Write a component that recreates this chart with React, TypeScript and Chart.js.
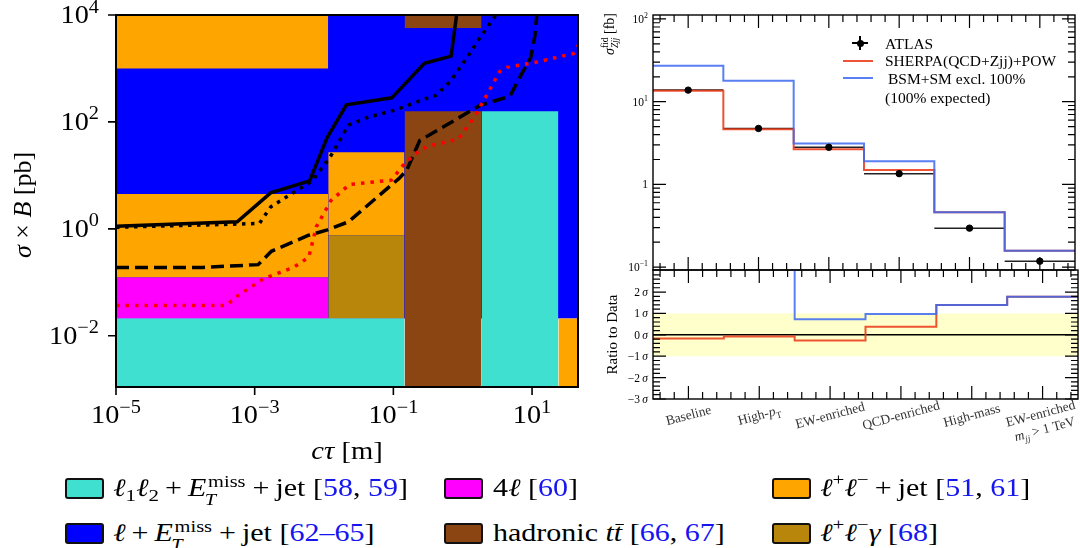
import React, { useEffect, useRef } from "react";
import { Chart, registerables } from "chart.js";
Chart.register(...registerables);

const SERIF = '"Liberation Serif", "DejaVu Serif", serif';

// ---------------- Left panel: data ----------------
const ctauMin = 1e-5;
const ctauMax = 46;
const sigmaMin = 1.1e-3;
const sigmaMax = 1e4;
const ctauTicks = [1e-5, 1e-3, 1e-1, 10];
const ctauTickExponents = ["\u22125", "\u22123", "\u22121", "1"];
const sigmaTicks = [1e4, 1e2, 1, 1e-2];
const sigmaTickExponents = ["4", "2", "0", "\u22122"];

// excluded regions: [cτ from, cτ to, σ×B from, σ×B to]
const lMetJetRegion = [1e-5, 46, 0.021, 1e4];
const llJetRegionA = [1e-5, 0.0115, 1000, 1e4];
const llJetRegionB = [1e-5, 0.0115, 0.123, 4.5];
const llJetRegionC = [0.0115, 0.145, 0.76, 27];
const llJetRegionD = [24, 46, 1e-3, 0.021];
const llGammaRegion = [0.0115, 0.145, 0.021, 0.76];
const fourLRegion = [1e-5, 0.0115, 0.021, 0.123];
const l1l2MetJetRegionA = [1e-5, 0.145, 1e-3, 0.021];
const l1l2MetJetRegionB = [1.87, 24, 1e-3, 158];
const hadTTbarRegionA = [0.145, 1.87, 1e-3, 158];
const hadTTbarRegionB = [0.145, 1.87, 5700, 1e4];

// limit curves
const solidCtau = [1e-5, 5.6e-4, 1.7e-3, 6.2e-3, 0.011, 0.021, 0.095, 0.28, 0.68, 0.84];
const solidSigma = [1.12, 1.35, 4.7, 7.9, 50, 209, 282, 1250, 1700, 13000];
const dottedCtau = [1e-5, 1.17e-3, 1.7e-3, 6.8e-3, 0.0126, 0.0224, 0.0437, 0.105, 0.288, 0.417, 0.684, 1.26, 1.74, 3.02, 3.6];
const dottedSigma = [1.07, 1.26, 2.57, 7.94, 23.4, 87, 123, 166, 269, 316, 603, 1905, 3630, 10000, 14000];
const dashedCtau = [1e-5, 1.8e-4, 1.12e-3, 1.74e-3, 6.0e-3, 0.0112, 0.0224, 0.12, 0.155, 0.24, 0.316, 1.78, 4.79, 7.08, 9.55, 10.96, 12.0];
const dashedSigma = [0.19, 0.19, 0.214, 0.38, 0.76, 0.955, 1.35, 8.7, 12.3, 45, 55, 204, 302, 794, 1585, 3981, 14125];
const redCtau = [1e-5, 3.9e-4, 5.25e-4, 1.35e-3, 3.63e-3, 6.03e-3, 7.76e-3, 0.0126, 0.0234, 0.0933, 0.145, 0.245, 0.324, 0.871, 1.51, 1.78, 2.45, 3.39, 4.37, 11.7, 39.8, 50];
const redSigma = [0.037, 0.037, 0.052, 0.117, 0.19, 0.295, 1.1, 3.39, 6.76, 8.13, 16.6, 30.2, 35.5, 47.9, 129, 191, 398, 871, 1047, 1318, 1905, 3162];

// ---------------- Right panel: data ----------------
const regionLabels = ["Baseline", "High-pT", "EW-enriched", "QCD-enriched", "High-mass", "EW-enriched mjj > 1 TeV"];
const atlasXsec = [13.8, 4.75, 2.81, 1.35, 0.296, 0.118];
const atlasErr = [0.5, 0.18, 0.12, 0.12, 0.02, 0.008];
const sherpaXsec = [13.6, 4.65, 2.67, 1.49, 0.46, 0.158];
const bsmXsec = [27.2, 17.9, 3.13, 1.91, 0.46, 0.158];
const sherpaPull = [-0.17, -0.08, -0.27, 0.375, 1.39, 1.78];
const bsmPull = [4.5, 4.5, 0.73, 0.97, 1.39, 1.78];
const xsecTicks = [100, 10, 1, 0.1];
const xsecTickExponents = ["2", "1", "", "\u22121"];
const pullTicks = [2, 1, 0, -1, -2, -3];

// ---------------- helpers ----------------
type Seg = { t?: string; it?: boolean; sub?: boolean; sup?: boolean; stack?: [string, string] };
const fontOf = (size: number, it: boolean) => `${it ? "italic " : ""}${size}px ${SERIF}`;

function drawRich(ctx: CanvasRenderingContext2D, segs: Seg[], x: number, y: number, size: number,
  opt: { align?: string; angle?: number; color?: string; dy?: number; sx?: number; scr?: number } = {}) {
  ctx.save();
  ctx.translate(x, y);
  if (opt.angle) ctx.rotate(opt.angle);
  if (opt.sx) ctx.scale(opt.sx, 1);
  const scr = opt.scr || 0.68;
  const ws = segs.map((s) => {
    if (s.stack) {
      ctx.font = fontOf(size * scr, false);
      const a = ctx.measureText(s.stack[0]).width;
      ctx.font = fontOf(size * scr, true);
      const b = ctx.measureText(s.stack[1]).width;
      return Math.max(a, b);
    }
    ctx.font = fontOf(s.sub || s.sup ? size * scr : size, !!s.it);
    return ctx.measureText(s.t || "").width;
  });
  const total = ws.reduce((a, b) => a + b, 0);
  let cx = opt.align === "right" ? -total : opt.align === "left" ? 0 : -total / 2;
  const by = opt.dy || 0;
  ctx.fillStyle = opt.color || "#000";
  ctx.textAlign = "left";
  ctx.textBaseline = "alphabetic";
  segs.forEach((s, i) => {
    if (s.stack) {
      ctx.font = fontOf(size * scr, false);
      ctx.fillText(s.stack[0], cx, by - size * 0.42);
      ctx.font = fontOf(size * scr, true);
      ctx.fillText(s.stack[1], cx, by + size * 0.3);
    } else {
      ctx.font = fontOf(s.sub || s.sup ? size * scr : size, !!s.it);
      const d = s.sub ? size * 0.25 : s.sup ? -size * 0.42 : 0;
      ctx.fillText(s.t || "", cx, by + d);
    }
    cx += ws[i];
  });
  ctx.restore();
}

function innerTicks(chart: any, xMajor: number[], xMinor: number[], yMajor: number[], yMinor: number[]) {
  const { ctx, chartArea: ca, scales } = chart;
  const xs = scales.x, ys = scales.y;
  ctx.save();
  ctx.strokeStyle = "#000";
  ctx.lineWidth = 1.2;
  ctx.beginPath();
  const vx = (v: number, len: number) => {
    const p = xs.getPixelForValue(v);
    ctx.moveTo(p, ca.top); ctx.lineTo(p, ca.top + len);
    ctx.moveTo(p, ca.bottom); ctx.lineTo(p, ca.bottom - len);
  };
  const hy = (v: number, len: number) => {
    const p = ys.getPixelForValue(v);
    if (p < ca.top - 0.5 || p > ca.bottom + 0.5) return;
    ctx.moveTo(ca.left, p); ctx.lineTo(ca.left + len, p);
    ctx.moveTo(ca.right, p); ctx.lineTo(ca.right - len, p);
  };
  xMajor.forEach((v) => vx(v, 13));
  xMinor.forEach((v) => vx(v, 7));
  yMajor.forEach((v) => hy(v, 13));
  yMinor.forEach((v) => hy(v, 7));
  ctx.stroke();
  ctx.lineWidth = 1.4;
  ctx.strokeRect(ca.left, ca.top, ca.right - ca.left, ca.bottom - ca.top);
  ctx.restore();
}

const binMajor: number[] = [];
const binMinor: number[] = [];
for (let k = 0; k < 30; k++) {
  const v = 0.1 + 0.2 * k;
  if (Math.abs(v - Math.floor(v) - 0.5) < 0.01) binMajor.push(v); else binMinor.push(v);
}
const logMinor: number[] = [];
[0.01, 0.1, 1, 10, 100].forEach((d) => { for (let m = 2; m <= 9; m++) logMinor.push(d * m); });
const pullMinor: number[] = [];
for (let k = 0; k <= 30; k++) {
  const v = -3 + 0.2 * k;
  if (Math.abs(v - Math.round(v)) > 0.01) pullMinor.push(v);
}

const baseOptions = (padding: any) => ({
  responsive: false,
  maintainAspectRatio: false,
  animation: false,
  devicePixelRatio: 1,
  events: [],
  layout: { padding },
  plugins: { legend: { display: false }, tooltip: { enabled: false } },
  elements: { point: { radius: 0 }, line: { tension: 0 } },
});

const regionDataset = (box: number[], color: string, order: number) => ({
  data: [{ x: box[0], y: box[3] }, { x: box[1], y: box[3] }],
  fill: { value: box[2] },
  backgroundColor: color,
  borderColor: "rgba(0,0,0,0)",
  borderWidth: 0,
  pointRadius: 0,
  order,
  clip: 0,
});

const curveDataset = (xs: number[], ys: number[], color: string, dash: number[], order: number) => ({
  data: xs.map((x, i) => ({ x, y: ys[i] })),
  borderColor: color,
  borderWidth: 3.5,
  borderDash: dash,
  fill: false,
  pointRadius: 0,
  order,
  clip: 0,
});

const leftDecor = {
  id: "leftDecor",
  afterDraw(chart: any) {
    const { ctx, chartArea: ca, scales } = chart;
    const xs = scales.x, ys = scales.y;
    ctx.save();
    ctx.strokeStyle = "#000";
    ctx.lineWidth = 2;
    ctx.strokeRect(ca.left, ca.top, ca.right - ca.left, ca.bottom - ca.top);
    ctx.lineWidth = 1.6;
    ctx.beginPath();
    ctauTicks.forEach((v) => { const p = xs.getPixelForValue(v); ctx.moveTo(p, ca.bottom); ctx.lineTo(p, ca.bottom + 8); });
    sigmaTicks.forEach((v) => { const p = ys.getPixelForValue(v); ctx.moveTo(ca.left - 8, p); ctx.lineTo(ca.left, p); });
    ctx.stroke();
    ctx.restore();
    ctauTicks.forEach((v, i) =>
      drawRich(ctx, [{ t: "10" }, { t: ctauTickExponents[i], sup: true }], xs.getPixelForValue(v), ca.bottom + 36, 25,
        { align: "center", sx: 1.13, scr: 0.72 }));
    sigmaTicks.forEach((v, i) =>
      drawRich(ctx, [{ t: "10" }, { t: sigmaTickExponents[i], sup: true }], ca.left - 17, ys.getPixelForValue(v) + 8, 25,
        { align: "right", sx: 1.13, scr: 0.72 }));
    drawRich(ctx, [{ t: "\u03c3", it: true }, { t: " \u00d7 " }, { t: "B", it: true }, { t: " [pb]" }],
      31, (ca.top + ca.bottom) / 2 + 4, 26, { align: "center", angle: -Math.PI / 2 });
    drawRich(ctx, [{ t: "c\u03c4", it: true }, { t: " [m]" }], (ca.left + ca.right) / 2, ca.bottom + 72, 26,
      { align: "center", sx: 1.1 });
  },
};

const topDecor = {
  id: "topDecor",
  afterDraw(chart: any) {
    const { ctx, chartArea: ca, scales } = chart;
    innerTicks(chart, binMajor, binMinor, xsecTicks, logMinor);
    xsecTicks.forEach((v, i) => {
      const segs: Seg[] = xsecTickExponents[i] ? [{ t: "10" }, { t: xsecTickExponents[i], sup: true }] : [{ t: "1" }];
      drawRich(ctx, segs, ca.left - 5, scales.y.getPixelForValue(v) + 4, 11.5, { align: "right" });
    });
    drawRich(ctx, [{ t: "\u03c3", it: true }, { stack: ["fid", "Zjj"] }, { t: " [fb]" }], 24, ca.top - 2, 14,
      { align: "right", angle: -Math.PI / 2 });
  },
};

const pullLabel = (v: number): Seg[] => [{ t: (v < 0 ? "\u2212" : "") + Math.abs(v) }, { t: "\u2009" }, { t: "\u03c3", it: true }];

const ratioDecor = {
  id: "ratioDecor",
  afterDraw(chart: any) {
    const { ctx, chartArea: ca, scales } = chart;
    innerTicks(chart, binMajor, binMinor, pullTicks, pullMinor);
    pullTicks.forEach((v) => drawRich(ctx, pullLabel(v), ca.left - 5, scales.y.getPixelForValue(v) + 4, 11.5, { align: "right" }));
    drawRich(ctx, [{ t: "Ratio to Data" }], 27, (ca.top + ca.bottom) / 2, 15, { align: "center", angle: -Math.PI / 2 });
    const ang = (-15 * Math.PI) / 180;
    const col = "#333";
    const labelSegs: Seg[][] = [
      [{ t: "Baseline" }],
      [{ t: "High-" }, { t: "p", it: true }, { t: "T", sub: true }],
      [{ t: "EW-enriched" }],
      [{ t: "QCD-enriched" }],
      [{ t: "High-mass" }],
    ];
    labelSegs.forEach((segs, i) =>
      drawRich(ctx, segs, scales.x.getPixelForValue(i + 0.5), ca.bottom + 16, 13.5, { align: "center", angle: ang, color: col, dy: 4.5 }));
    const cx = scales.x.getPixelForValue(5.5);
    drawRich(ctx, [{ t: "EW-enriched" }], cx, ca.bottom + 22, 13.5, { align: "center", angle: ang, color: col, dy: -3.5 });
    drawRich(ctx, [{ t: "m", it: true }, { t: "jj", sub: true, it: true }, { t: " > 1 TeV" }], cx, ca.bottom + 22, 13.5,
      { align: "center", angle: ang, color: col, dy: 12.5 });
  },
};

const stepPoints = (vals: number[]) => [...vals.map((v, i) => ({ x: i, y: v })), { x: vals.length, y: vals[vals.length - 1] }];
const barPoints = (vals: number[]) => vals.flatMap((v, i) => [{ x: i, y: v }, { x: i + 1, y: v }, { x: i + 1, y: null }]);
const errPoints = (vals: number[], errs: number[]) =>
  vals.flatMap((v, i) => [{ x: i + 0.5, y: v - errs[i] }, { x: i + 0.5, y: v + errs[i] }, { x: i + 0.5, y: null }]);

const RED = "rgba(235, 60, 25, 0.88)";
const BLUE = "rgba(60, 105, 240, 0.85)";

// ---------------- legend pieces ----------------
const REF = "#1515f0";
const Ref = ({ children }: any) => <span style={{ color: REF }}>{children}</span>;
const Ell = () => <i>ℓ</i>;
const Sub = ({ children }: any) => <span style={{ fontSize: "0.7em", position: "relative", top: "0.3em" }}>{children}</span>;
const Sup = ({ children }: any) => <span style={{ fontSize: "0.7em", position: "relative", top: "-0.62em" }}>{children}</span>;
const Plus = () => <span style={{ margin: "0 0.2em" }}>+</span>;
const ETmiss = () => (
  <>
    <i>E</i>
    <span style={{ display: "inline-block", position: "relative", width: "1.34em", height: "0.8em" }}>
      <span style={{ position: "absolute", left: "0.09em", top: "-0.4em", fontSize: "0.68em" }}>miss</span>
      <span style={{ position: "absolute", left: "-0.07em", top: "0.62em", fontSize: "0.68em", fontStyle: "italic" }}>T</span>
    </span>
  </>
);
const TTbar = () => (
  <>
    <i>t</i>
    <i style={{ position: "relative" }}>
      t<span style={{ position: "absolute", left: "0.04em", width: "0.3em", top: "0.2em", borderTop: "0.06em solid #000" }} />
    </i>
  </>
);

const Swatch = ({ x, y, color }: any) => (
  <div style={{ position: "absolute", left: x, top: y, width: 35, height: 17, background: color, border: "2px solid #111", borderRadius: 3 }} />
);
const LegText = ({ x, y, children }: any) => (
  <div style={{
    position: "absolute", left: x, top: y, fontFamily: SERIF, fontSize: 25, lineHeight: "25px", whiteSpace: "nowrap", color: "#000",
    transform: "scaleX(1.2)", transformOrigin: "0 50%",
  }}>
    {children}
  </div>
);

export default function App() {
  const leftRef = useRef<HTMLCanvasElement>(null);
  const topRef = useRef<HTMLCanvasElement>(null);
  const ratioRef = useRef<HTMLCanvasElement>(null);

  useEffect(() => {
    const charts: Chart[] = [];
    const left = new Chart(leftRef.current as HTMLCanvasElement, {
      type: "line",
      data: {
        datasets: [
          regionDataset(lMetJetRegion, "#0000ff", 30),
          regionDataset(llJetRegionA, "#ffa500", 20),
          regionDataset(llJetRegionB, "#ffa500", 20),
          regionDataset(llJetRegionC, "#ffa500", 20),
          regionDataset(llJetRegionD, "#ffa500", 20),
          regionDataset(llGammaRegion, "#b8860b", 19),
          regionDataset(fourLRegion, "#ff00ff", 19),
          regionDataset(l1l2MetJetRegionA, "#40e0d0", 18),
          regionDataset(l1l2MetJetRegionB, "#40e0d0", 18),
          regionDataset(hadTTbarRegionA, "#8b4513", 17),
          regionDataset(hadTTbarRegionB, "#8b4513", 17),
          curveDataset(solidCtau, solidSigma, "#000", [], 4),
          curveDataset(dottedCtau, dottedSigma, "#000", [3.5, 5.5], 3),
          curveDataset(dashedCtau, dashedSigma, "#000", [13, 6], 2),
          curveDataset(redCtau, redSigma, "#ff0000", [3.5, 6], 1),
        ] as any,
      },
      options: {
        ...(baseOptions({ left: 116, top: 15, right: 12, bottom: 83 }) as any),
        scales: {
          x: { type: "logarithmic", min: ctauMin, max: ctauMax, display: false },
          y: { type: "logarithmic", min: sigmaMin, max: sigmaMax, display: false },
        },
      },
      plugins: [leftDecor],
    });
    charts.push(left);

    const top = new Chart(topRef.current as HTMLCanvasElement, {
      type: "line",
      data: {
        datasets: [
          { data: barPoints(atlasXsec), borderColor: "#222", borderWidth: 1.5, order: 5, clip: 0 },
          { data: stepPoints(sherpaXsec), borderColor: RED, borderWidth: 2, stepped: "before", order: 3, clip: 0 },
          { data: stepPoints(bsmXsec), borderColor: BLUE, borderWidth: 2, stepped: "before", order: 2, clip: 0 },
          { data: errPoints(atlasXsec, atlasErr), borderColor: "#000", borderWidth: 1.5, order: 1, clip: 0 },
          {
            data: atlasXsec.map((v, i) => ({ x: i + 0.5, y: v })),
            showLine: false, pointRadius: 3.2, pointBackgroundColor: "#000", pointBorderColor: "#000", order: 0, clip: 0,
          },
        ] as any,
      },
      options: {
        ...(baseOptions({ left: 63, top: 15, right: 2, bottom: 5 }) as any),
        scales: {
          x: { type: "linear", min: 0, max: regionLabels.length, display: false },
          y: { type: "logarithmic", min: 0.0923, max: 111.7, display: false },
        },
      },
      plugins: [topDecor],
    });
    charts.push(top);

    const ratio = new Chart(ratioRef.current as HTMLCanvasElement, {
      type: "line",
      data: {
        datasets: [
          {
            data: [{ x: 0, y: 1 }, { x: regionLabels.length, y: 1 }],
            fill: { value: -1 }, backgroundColor: "#ffffcc", borderColor: "rgba(0,0,0,0)", borderWidth: 0, order: 6, clip: 0,
          },
          { data: [{ x: 0, y: 0 }, { x: regionLabels.length, y: 0 }], borderColor: "#000", borderWidth: 1.5, order: 5, clip: 0 },
          { data: stepPoints(sherpaPull), borderColor: RED, borderWidth: 2, stepped: "before", order: 3, clip: 0 },
          { data: stepPoints(bsmPull), borderColor: BLUE, borderWidth: 2, stepped: "before", order: 2, clip: 0 },
        ] as any,
      },
      options: {
        ...(baseOptions({ left: 63, top: 5, right: 2, bottom: 71 }) as any),
        scales: {
          x: { type: "linear", min: 0, max: regionLabels.length, display: false },
          y: { type: "linear", min: -3, max: 3.03, display: false },
        },
      },
      plugins: [ratioDecor],
    });
    charts.push(ratio);
    return () => charts.forEach((c) => c.destroy());
  }, []);

  const lt = { position: "absolute" as const, fontFamily: SERIF, fontSize: 15.5, lineHeight: "15px", whiteSpace: "nowrap" as const };
  return (
    <div style={{ position: "fixed", left: 0, top: 0, width: 1080, height: 548, background: "#fff", overflow: "hidden" }}>
      <canvas ref={leftRef} width={590} height={470} style={{ position: "absolute", left: 0, top: 0, width: 590, height: 470 }} />
      <canvas ref={topRef} width={490} height={275} style={{ position: "absolute", left: 590, top: 0, width: 490, height: 275 }} />
      <canvas ref={ratioRef} width={490} height={205} style={{ position: "absolute", left: 590, top: 265, width: 490, height: 205 }} />

      {/* right-panel legend */}
      <div style={{ position: "absolute", left: 852, top: 42.3, width: 16, height: 1.5, background: "#000" }} />
      <div style={{ position: "absolute", left: 859.3, top: 36, width: 1.5, height: 14, background: "#000" }} />
      <div style={{ position: "absolute", left: 857, top: 40, width: 7, height: 7, borderRadius: "50%", background: "#000" }} />
      <div style={{ position: "absolute", left: 843, top: 59.5, width: 30, height: 2, background: RED }} />
      <div style={{ position: "absolute", left: 843, top: 77, width: 30, height: 2, background: BLUE }} />
      <div style={{ ...lt, left: 885, top: 35.5 }}>ATLAS</div>
      <div style={{ ...lt, left: 885, top: 53 }}>SHERPA(QCD+Zjj)+POW</div>
      <div style={{ ...lt, left: 888, top: 70.5 }}>BSM+SM excl. 100%</div>
      <div style={{ ...lt, left: 885, top: 90 }}>(100% expected)</div>

      {/* bottom legend */}
      <Swatch x={65} y={478} color="#40e0d0" />
      <LegText x={113} y={475}>
        <Ell /><Sub>1</Sub><Ell /><Sub>2</Sub><Plus /><ETmiss /><Plus />jet [<Ref>58</Ref>, <Ref>59</Ref>]
      </LegText>
      <Swatch x={444} y={478} color="#ff00ff" />
      <LegText x={493} y={475}>
        4<Ell /> [<Ref>60</Ref>]
      </LegText>
      <Swatch x={772} y={478} color="#ffa500" />
      <LegText x={820} y={475}>
        <Ell /><Sup>+</Sup><Ell /><Sup>−</Sup><Plus />jet [<Ref>51</Ref>, <Ref>61</Ref>]
      </LegText>
      <Swatch x={65} y={523} color="#0000ff" />
      <LegText x={113} y={520}>
        <Ell /><Plus /><ETmiss /><Plus />jet [<Ref>62–65</Ref>]
      </LegText>
      <Swatch x={444} y={523} color="#8b4513" />
      <LegText x={493} y={520}>
        hadronic <TTbar /> [<Ref>66</Ref>, <Ref>67</Ref>]
      </LegText>
      <Swatch x={772} y={523} color="#b8860b" />
      <LegText x={820} y={520}>
        <Ell /><Sup>+</Sup><Ell /><Sup>−</Sup><i>γ</i> [<Ref>68</Ref>]
      </LegText>
    </div>
  );
}
